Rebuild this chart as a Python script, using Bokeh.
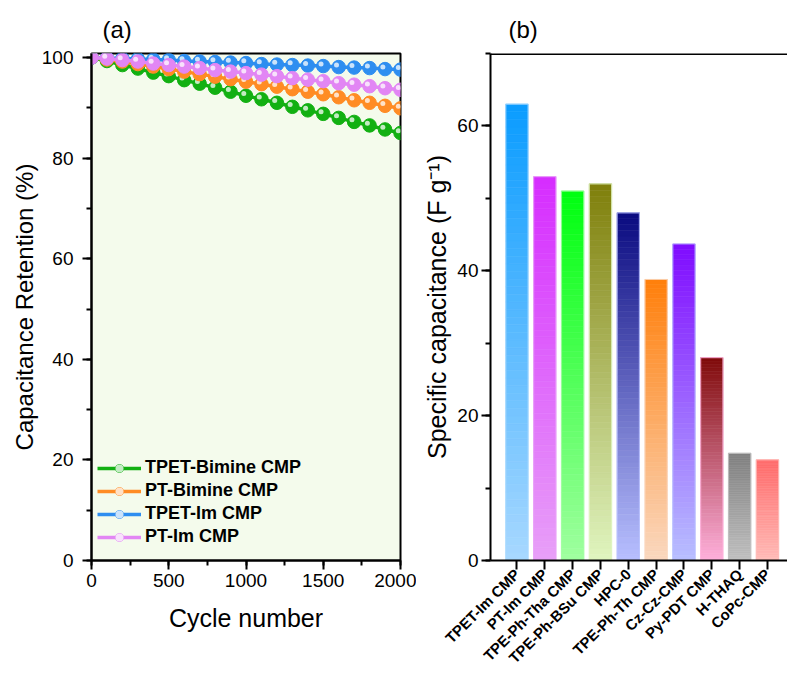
import math
from bokeh.plotting import figure
from bokeh.layouts import row
from bokeh.models import (ColumnDataSource, SingleIntervalTicker, FixedTicker,
                          Legend, LegendItem, Span, Title)
from bokeh.embed import file_html
from bokeh.resources import INLINE

# ---------------- data (a) ----------------
cycles = list(range(0, 2001, 100))
tpet_bimine = [100, 99.3, 98.5, 97.8, 97.0, 96.3, 95.5, 94.8, 94.0, 93.2, 92.4,
               91.7, 91.0, 90.2, 89.5, 88.8, 88.0, 87.2, 86.5, 85.7, 85.0]
pt_bimine = [100, 99.6, 99.2, 98.7, 98.2, 97.7, 97.2, 96.7, 96.2, 95.7, 95.2,
             94.7, 94.2, 93.7, 93.2, 92.7, 92.1, 91.5, 91.0, 90.4, 89.9]
tpet_im = [100, 99.9, 99.8, 99.7, 99.6, 99.5, 99.3, 99.2, 99.1, 99.0, 98.9,
           98.7, 98.6, 98.5, 98.4, 98.3, 98.1, 98.0, 97.9, 97.7, 97.6]
pt_im = [100, 99.8, 99.5, 99.2, 98.8, 98.5, 98.2, 97.9, 97.5, 97.2, 96.9,
         96.6, 96.3, 95.9, 95.6, 95.3, 94.9, 94.6, 94.3, 93.9, 93.6]
series_names = ["TPET-Bimine CMP", "PT-Bimine CMP", "TPET-Im CMP", "PT-Im CMP"]
series_values = [tpet_bimine, pt_bimine, tpet_im, pt_im]
series_colors = ["#12b012", "#ff8c24", "#2e8ef0", "#e286f4"]

# ---------------- data (b) ----------------
materials = ["TPET-Im CMP", "PT-Im CMP", "TPE-Ph-Tha CMP", "TPE-Ph-BSu CMP", "HPC-0",
             "TPE-Ph-Th CMP", "Cz-Cz-CMP", "Py-PDT CMP", "H-THAQ", "CoPc-CMP"]
capacitance = [63, 53, 51, 52, 48, 38.8, 43.7, 28, 14.8, 13.9]
top_colors = ["#0a9cff", "#d62cff", "#00ff10", "#7f7f0a", "#0a0a80",
              "#ff7f0a", "#800aff", "#800a0a", "#808080", "#ff6a6a"]
bottom_colors = ["#a8d8ff", "#e8a0f8", "#a0ffa0", "#e0f5c0", "#b8c0ff",
                 "#fad8c0", "#b8c0ff", "#ffb0dc", "#c0c0c0", "#ffbcb8"]

FONT = "Liberation Sans"


def style_axis(ax, size="19px"):
    ax.axis_line_width = 2
    ax.major_tick_line_width = 2
    ax.minor_tick_line_width = 2
    ax.major_tick_in = 0
    ax.major_tick_out = 9
    ax.minor_tick_in = 0
    ax.minor_tick_out = 5
    ax.major_label_text_font = FONT
    ax.major_label_text_font_size = size
    ax.major_label_text_color = "black"
    ax.axis_label_text_font = FONT
    ax.axis_label_text_font_size = "25px"
    ax.axis_label_text_font_style = "normal"
    ax.axis_label_text_color = "black"


def side_title(text, size, offset, standoff):
    t = Title(text=text, align="center", offset=offset, standoff=standoff)
    t.text_font = FONT
    t.text_font_size = size
    t.text_font_style = "normal"
    t.text_color = "black"
    return t


# ---------------- panel (a) ----------------
pa = figure(width=416, height=675, x_range=(0, 2000), y_range=(0, 100.8),
            output_backend="svg", toolbar_location=None,
            min_border_left=91, min_border_right=16, min_border_top=53,
            min_border_bottom=114)
pa.background_fill_color = "#f4fbec"
pa.outline_line_color = "black"
pa.outline_line_width = 2
pa.xgrid.visible = False
pa.ygrid.visible = False
pa.title.text = "(a)"
pa.title.text_font = FONT
pa.title.text_font_size = "24px"
pa.title.text_font_style = "normal"
pa.title.text_color = "black"
pa.title.align = "left"
pa.title.offset = 11
pa.title.standoff = 22

pa.xaxis.ticker = SingleIntervalTicker(interval=500, num_minor_ticks=2)
pa.yaxis.ticker = SingleIntervalTicker(interval=20, num_minor_ticks=2)
pa.xaxis.axis_label = "Cycle number"
style_axis(pa.xaxis[0])
style_axis(pa.yaxis[0])
pa.xaxis.major_label_standoff = 4
pa.xaxis.axis_label_standoff = 14
pa.yaxis.major_label_standoff = 9
pa.add_layout(side_title("Capacitance Retention (%)", "24px", 20, 2), "left")

px_x = 309 / 2000.0
px_y = 508 / 100.8
items = []
for name, vals, col in zip(series_names, series_values, series_colors):
    src = ColumnDataSource(dict(x=cycles, y=vals))
    hl = ColumnDataSource(dict(x=[c - 2.2 / px_x for c in cycles],
                               y=[v + 2.2 / px_y for v in vals]))
    ln = pa.line("x", "y", source=src, line_color=col, line_width=3.5)
    sc = pa.scatter("x", "y", source=src, size=13.5, fill_color=col,
                    line_color=col, line_width=1)
    h = pa.scatter("x", "y", source=hl, size=5, fill_color="white",
                   fill_alpha=0.75, line_color=None)
    items.append(LegendItem(label=name, renderers=[ln, sc, h]))

legend = Legend(items=items, location=(6, 13))
legend.label_text_font = FONT
legend.label_text_font_size = "18px"
legend.label_text_font_style = "bold"
legend.label_text_color = "black"
legend.background_fill_alpha = 0
legend.border_line_alpha = 0
legend.glyph_width = 44
legend.glyph_height = 20
legend.label_height = 20
legend.spacing = 2
legend.padding = 0
legend.margin = 0
legend.label_standoff = 4
pa.add_layout(legend)

# ---------------- panel (b) ----------------
pb = figure(width=371, height=675, x_range=(0.05, 10.72), y_range=(0, 70),
            output_backend="svg", toolbar_location=None,
            min_border_left=70, min_border_right=0, min_border_top=53,
            min_border_bottom=114)
pb.outline_line_color = None
pb.xgrid.visible = False
pb.ygrid.visible = False
pb.title.text = "(b)"
pb.title.text_font = FONT
pb.title.text_font_size = "24px"
pb.title.text_font_style = "normal"
pb.title.text_color = "black"
pb.title.align = "left"
pb.title.offset = 18
pb.title.standoff = 22


def hex2rgb(h):
    return tuple(int(h[i:i + 2], 16) for i in (1, 3, 5))


def mix(c1, c2, t):
    a, b = hex2rgb(c1), hex2rgb(c2)
    return "#%02x%02x%02x" % tuple(round(a[i] + (b[i] - a[i]) * t) for i in range(3))


N = 60
seg = dict(left=[], right=[], bottom=[], top=[], color=[])
positions = list(range(1, len(materials) + 1))
bw = 0.8
for pos, v, tc, bc in zip(positions, capacitance, top_colors, bottom_colors):
    for i in range(N):
        seg["left"].append(pos - bw / 2)
        seg["right"].append(pos + bw / 2)
        seg["bottom"].append(v * i / N)
        seg["top"].append(v * (i + 1) / N)
        seg["color"].append(mix(bc, tc, (i + 0.5) / N))
pb.quad(left="left", right="right", bottom="bottom", top="top", source=ColumnDataSource(seg),
        fill_color="color", line_color="color", line_width=0.6)
outline_src = ColumnDataSource(dict(x=positions, top=capacitance, lc=bottom_colors))
pb.vbar(x="x", top="top", width=bw, bottom=0, source=outline_src, fill_color=None,
        line_color="lc", line_width=1.2, line_alpha=0.8)

pb.add_layout(Span(location=70, dimension="width", line_color="black", line_width=3))

pb.yaxis.ticker = SingleIntervalTicker(interval=20, num_minor_ticks=2)
pb.xaxis.ticker = FixedTicker(ticks=positions, minor_ticks=[])
pb.xaxis.major_label_overrides = {p: m for p, m in zip(positions, materials)}
style_axis(pb.xaxis[0], size="15px")
style_axis(pb.yaxis[0])
pb.xaxis.major_label_text_font_style = "bold"
pb.xaxis.major_label_orientation = math.pi / 4
pb.xaxis.major_label_standoff = 2
pb.yaxis.major_label_standoff = 3
pb.add_layout(side_title("Specific capacitance (F g\u207b\u00b9)", "25px", 25, 8), "left")

layout = row(pa, pb)
open("out.html", "w").write(file_html(layout, INLINE))
